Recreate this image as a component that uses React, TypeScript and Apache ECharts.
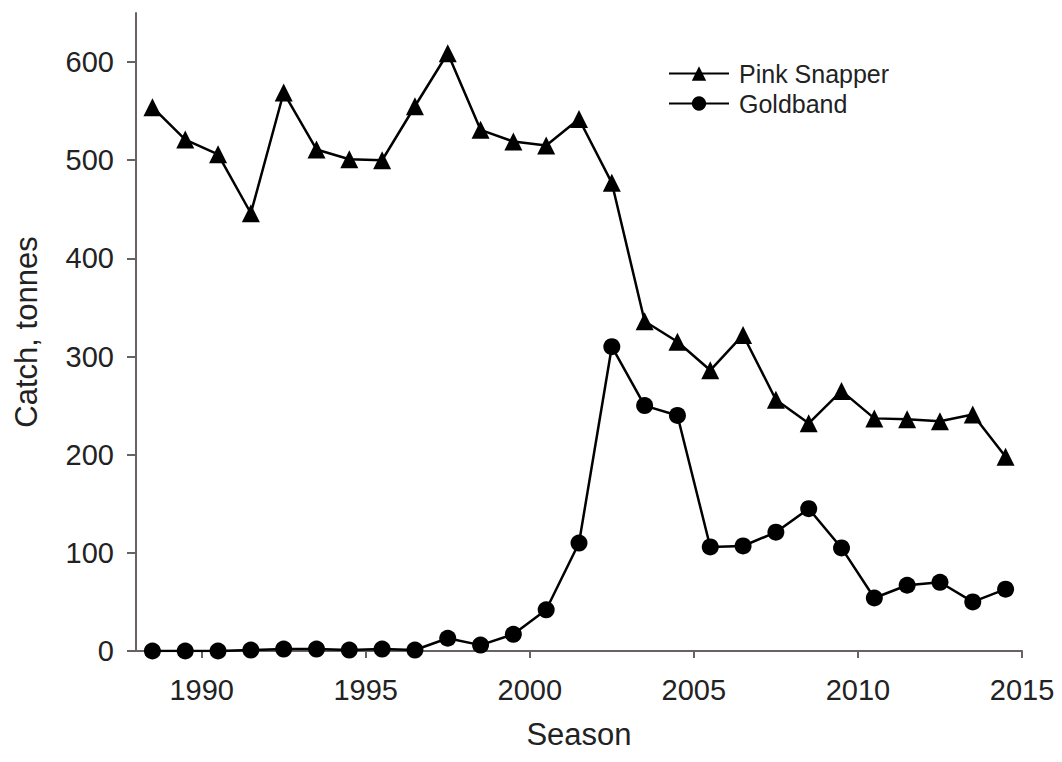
import React, { useEffect, useRef } from "react";
import * as echarts from "echarts";

const seasons = [
  1988.5, 1989.5, 1990.5, 1991.5, 1992.5, 1993.5, 1994.5, 1995.5, 1996.5,
  1997.5, 1998.5, 1999.5, 2000.5, 2001.5, 2002.5, 2003.5, 2004.5, 2005.5,
  2006.5, 2007.5, 2008.5, 2009.5, 2010.5, 2011.5, 2012.5, 2013.5, 2014.5,
];
const pinkSnapper = [
  554, 521, 506, 446, 569, 511, 501, 500, 555, 609, 531, 519, 515, 542, 477,
  336, 315, 286, 322, 256, 232, 265, 237, 236, 234, 241, 198,
];
const goldband = [
  0, 0, 0, 1, 2, 2, 1, 2, 1, 13, 6, 17, 42, 110, 310, 250, 240, 106, 107, 121,
  145, 105, 54, 67, 70, 50, 63,
];
const xTicks = [1990, 1995, 2000, 2005, 2010, 2015];
const yTicks = [0, 100, 200, 300, 400, 500, 600];

const FONT = "'Liberation Sans', Arial, sans-serif";
const AXIS_COLOR = "#6a6262";
const TEXT_COLOR = "#222";

export default function App() {
  const ref = useRef<HTMLDivElement>(null);
  useEffect(() => {
    if (!ref.current) return;
    const chart = echarts.init(ref.current, null, { renderer: "svg" });
    chart.setOption({
      animation: false,
      backgroundColor: "#fff",
      textStyle: { fontFamily: FONT },
      grid: {
        left: 128,
        right: 32,
        top: 5,
        bottom: 103,
        containLabel: false,
        outerBoundsMode: "none",
      },
      legend: {
        orient: "vertical",
        left: 655,
        top: 48,
        itemWidth: 60,
        itemHeight: 18,
        itemGap: 5,
        textStyle: {
          fontSize: 25,
          color: TEXT_COLOR,
          fontFamily: FONT,
          padding: [0, 0, 0, 5],
        },
        data: ["Pink Snapper", "Goldband"],
      },
      xAxis: {
        type: "value",
        min: 1988,
        max: 2015,
        name: "Season",
        nameLocation: "middle",
        nameGap: 68,
        nameTextStyle: { fontSize: 31, color: TEXT_COLOR, fontFamily: FONT },
        splitLine: { show: false },
        axisLine: { show: true, onZero: false, lineStyle: { color: AXIS_COLOR, width: 2 } },
        axisTick: {
          show: true,
          length: 7,
          customValues: xTicks,
          lineStyle: { color: AXIS_COLOR, width: 2 },
        },
        axisLabel: {
          customValues: xTicks,
          formatter: (v: number) => String(v),
          fontSize: 29,
          color: TEXT_COLOR,
          margin: 24,
          fontFamily: FONT,
        },
      },
      yAxis: {
        type: "value",
        min: 0,
        max: 650,
        name: "Catch, tonnes",
        nameLocation: "middle",
        nameGap: 94,
        nameTextStyle: { fontSize: 31, color: TEXT_COLOR, fontFamily: FONT },
        splitLine: { show: false },
        axisLine: { show: true, lineStyle: { color: AXIS_COLOR, width: 2 } },
        axisTick: {
          show: true,
          length: 9,
          customValues: yTicks,
          lineStyle: { color: AXIS_COLOR, width: 2 },
        },
        axisLabel: {
          customValues: yTicks,
          formatter: (v: number) => String(v),
          fontSize: 29,
          color: TEXT_COLOR,
          margin: 22,
          fontFamily: FONT,
        },
      },
      series: [
        {
          name: "Pink Snapper",
          type: "line",
          data: seasons.map((s, i) => [s, pinkSnapper[i]]),
          symbol: "triangle",
          symbolSize: 18,
          lineStyle: { color: "#000", width: 2.5 },
          itemStyle: { color: "#000" },
        },
        {
          name: "Goldband",
          type: "line",
          data: seasons.map((s, i) => [s, goldband[i]]),
          symbol: "circle",
          symbolSize: 17,
          lineStyle: { color: "#000", width: 2.5 },
          itemStyle: { color: "#000" },
        },
      ],
    });
    return () => chart.dispose();
  }, []);
  return <div ref={ref} style={{ width: 1046, height: 746 }} />;
}
